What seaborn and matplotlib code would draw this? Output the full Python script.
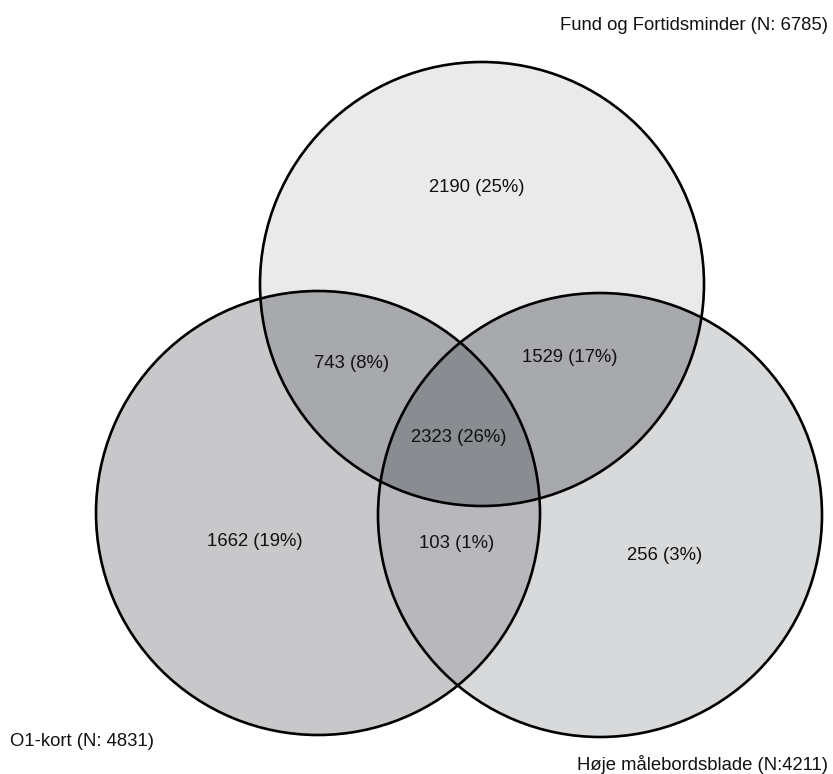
import numpy as np
import matplotlib
matplotlib.use("Agg")
import matplotlib.pyplot as plt
from matplotlib.colors import ListedColormap
from matplotlib.patches import Circle
import seaborn as sns

# ---- data ----
set_labels = ["Fund og Fortidsminder (N: 6785)", "O1-kort (N: 4831)", "Høje målebordsblade (N:4211)"]
region_names = ["T", "L", "R", "TL", "TR", "LR", "TLR"]
region_counts = [2190, 1662, 256, 743, 1529, 103, 2323]
region_pcts = [25, 19, 3, 8, 17, 1, 26]

# ---- layout (pixel space) ----
W, H = 833, 774
circle_centers = {"T": (482, 284), "L": (318, 513), "R": (600, 515)}
circle_radius = 222
label_pos = {
    "T": (477, 188), "L": (255, 542), "R": (665, 555),
    "TL": (352, 363), "TR": (570, 357), "LR": (457, 544), "TLR": (459, 438),
}
set_label_pos = [(828, 25, "right"), (10, 742, "left"), (828, 764, "right")]

# region colours indexed by code = inT*1 + inL*2 + inR*4
code_colors = ["#ffffff", "#ebebeb", "#c8c9cb", "#a7a9ad",
               "#d8d9db", "#a7a9ad", "#b8b9bc", "#8a8c90"]

sns.set_theme(style="white")
plt.rcParams["font.family"] = ["Liberation Sans", "DejaVu Sans"]

fig = plt.figure(figsize=(W / 100, H / 100), dpi=100)
ax = fig.add_axes([0, 0, 1, 1])
ax.set_xlim(0, W)
ax.set_ylim(H, 0)
ax.axis("off")

# region fill image
yy, xx = np.mgrid[0:H:0.5, 0:W:0.5]
code = np.zeros(xx.shape, dtype=int)
for bit, key in zip([1, 2, 4], ["T", "L", "R"]):
    cx, cy = circle_centers[key]
    code += bit * (((xx - cx) ** 2 + (yy - cy) ** 2) <= circle_radius ** 2)
ax.imshow(code, cmap=ListedColormap(code_colors), vmin=-0.5, vmax=7.5,
          extent=[0, W, H, 0], origin="upper", interpolation="antialiased", zorder=1)

# outlines
for key in ["T", "L", "R"]:
    ax.add_patch(Circle(circle_centers[key], circle_radius, fill=False,
                        edgecolor="black", linewidth=1.9, zorder=2))

# region labels
for name, cnt, pct in zip(region_names, region_counts, region_pcts):
    x, y = label_pos[name]
    ax.text(x, y, f"{cnt} ({pct}%)", ha="center", va="center",
            fontsize=13.3, color="#111111", zorder=3)

# set labels
for lab, (x, y, ha) in zip(set_labels, set_label_pos):
    ax.text(x, y, lab, ha=ha, va="center", fontsize=13.3, color="#111111", zorder=3)

fig.savefig("out.png", dpi=100, facecolor="white")
